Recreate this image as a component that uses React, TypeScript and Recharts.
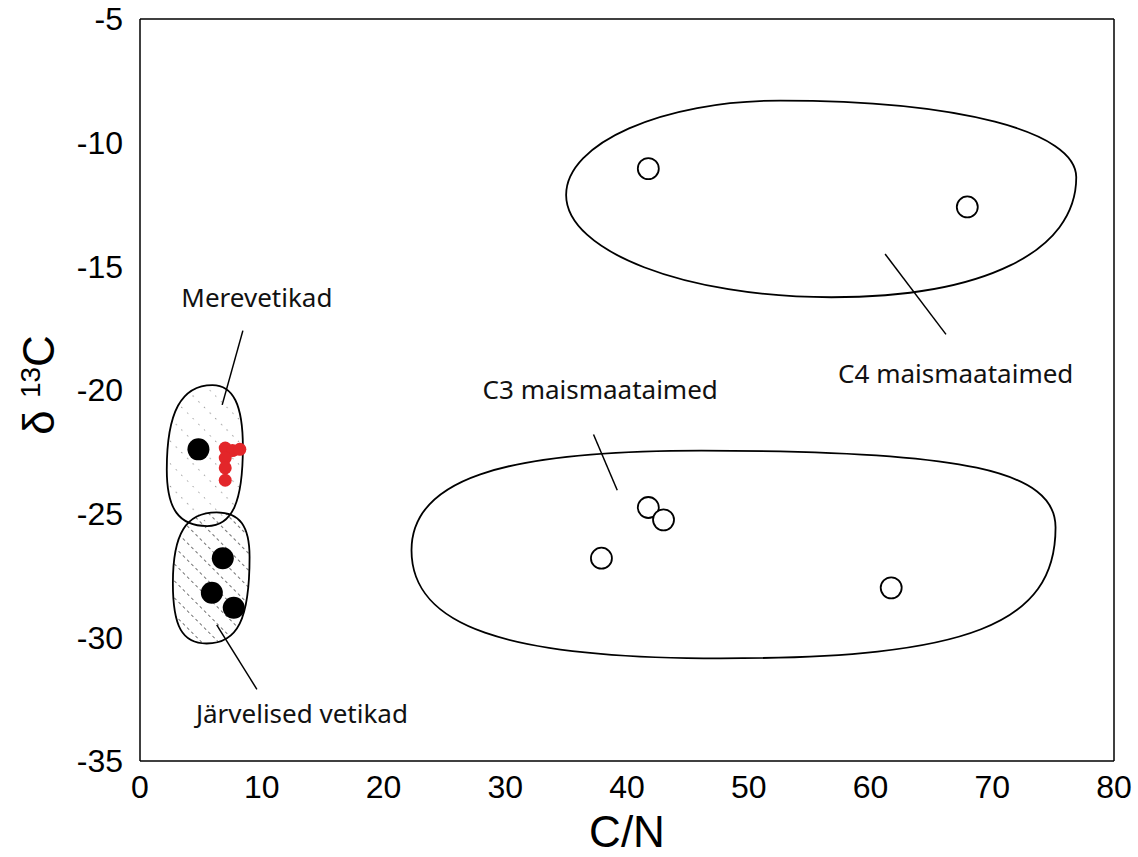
import React from "react";
import {
  ReferenceArea,
  ReferenceDot,
  ReferenceLine,
  Scatter,
  ScatterChart,
  XAxis,
  YAxis,
} from "recharts";

// axis ticks
const cnTicks = [0, 10, 20, 30, 40, 50, 60, 70, 80];
const d13cTicks = [-35, -30, -25, -20, -15, -10, -5];

// measured samples
const marineAlgae = [{ cn: 4.8, d13c: -22.4 }];
const lakeAlgae = [
  { cn: 6.8, d13c: -26.8 },
  { cn: 5.9, d13c: -28.2 },
  { cn: 7.7, d13c: -28.8 },
];
const ownSamples = [
  { cn: 7.0, d13c: -22.35 },
  { cn: 7.6, d13c: -22.45 },
  { cn: 8.2, d13c: -22.4 },
  { cn: 7.0, d13c: -22.75 },
  { cn: 7.0, d13c: -23.15 },
  { cn: 7.0, d13c: -23.65 },
];
const c3Plants = [
  { cn: 41.75, d13c: -24.75 },
  { cn: 43.0, d13c: -25.25 },
  { cn: 37.9, d13c: -26.8 },
  { cn: 61.7, d13c: -28.0 },
];
const c4Plants = [
  { cn: 41.75, d13c: -11.05 },
  { cn: 67.95, d13c: -12.6 },
];

// group outlines (bounding boxes in data units)
const groupAreas = [
  { id: "c4", x1: 35.0, x2: 76.9, y1: -8.3, y2: -16.25 },
  { id: "c3", x1: 22.3, x2: 75.2, y1: -22.45, y2: -30.85 },
  { id: "marine", x1: 2.2, x2: 8.45, y1: -19.8, y2: -25.5 },
  { id: "lake", x1: 2.7, x2: 9.0, y1: -24.95, y2: -30.25 },
];

const leaders = [
  { from: { x: 8.45, y: -17.6 }, to: { x: 6.75, y: -20.6 } },
  { from: { x: 6.3, y: -29.5 }, to: { x: 9.6, y: -32.1 } },
  { from: { x: 37.25, y: -21.8 }, to: { x: 39.2, y: -24.05 } },
  { from: { x: 61.2, y: -14.5 }, to: { x: 66.2, y: -17.75 } },
];

const groupLabels = [
  { text: "Merevetikad", x: 9.6, y: -16.65 },
  { text: "Järvelised vetikad", x: 13.3, y: -33.45 },
  { text: "C3 maismaataimed", x: 37.8, y: -20.35 },
  { text: "C4 maismaataimed", x: 67.0, y: -19.7 },
];

const blobStyle: Record<string, any> = {
  c4: { tx: 0.42, ry: 0.39, bx: 0.52, ly: 0.48, k: [0.6, 0.62, 0.55, 0.55], fill: "none" },
  c3: { tx: 0.45, ry: 0.37, bx: 0.48, ly: 0.48, k: [0.74, 0.74, 0.7, 0.7], fill: "none" },
  marine: { tx: 0.6, ry: 0.44, bx: 0.53, ly: 0.6, k: [0.68, 0.7, 0.7, 0.68], fill: "url(#dots)" },
  lake: { tx: 0.57, ry: 0.34, bx: 0.44, ly: 0.54, k: [0.7, 0.72, 0.72, 0.7], fill: "url(#hatch)" },
};

function blobPath(x: number, y: number, w: number, h: number, s: any) {
  const T = [x + s.tx * w, y];
  const R = [x + w, y + s.ry * h];
  const B = [x + s.bx * w, y + h];
  const L = [x, y + s.ly * h];
  const [k1, k2, k3, k4] = s.k;
  return [
    `M${T[0]},${T[1]}`,
    `C${T[0] + k1 * (R[0] - T[0])},${T[1]} ${R[0]},${R[1] - k1 * (R[1] - T[1])} ${R[0]},${R[1]}`,
    `C${R[0]},${R[1] + k2 * (B[1] - R[1])} ${B[0] + k2 * (R[0] - B[0])},${B[1]} ${B[0]},${B[1]}`,
    `C${B[0] - k3 * (B[0] - L[0])},${B[1]} ${L[0]},${L[1] + k3 * (B[1] - L[1])} ${L[0]},${L[1]}`,
    `C${L[0]},${L[1] - k4 * (L[1] - T[1])} ${T[0] - k4 * (T[0] - L[0])},${T[1]} ${T[0]},${T[1]}`,
    "Z",
  ].join(" ");
}

const tickFont = { fontFamily: "'Liberation Sans', Arial, sans-serif", fontSize: 32, fill: "#000" };
const noteFont = "'Noto Sans', 'Open Sans', sans-serif";

const dot = (r: number, fill: string, stroke = "none") => (p: any) => (
  <circle cx={p.cx} cy={p.cy} r={r} fill={fill} stroke={stroke} strokeWidth={1.8} />
);

export default function App() {
  return (
    <div style={{ position: "absolute", left: 0, top: 0, background: "#fff" }}>
      <ScatterChart width={1138} height={857} margin={{ top: 19, right: 24, bottom: 0, left: 40 }}>
        <defs>
          <pattern id="hatch" width="12" height="12" patternUnits="userSpaceOnUse" patternTransform="rotate(-45)">
            <line x1="0" y1="0" x2="0" y2="12" stroke="#222" strokeWidth={1.3} strokeDasharray="3 3" />
          </pattern>
          <pattern id="dots" width="16" height="16" patternUnits="userSpaceOnUse" patternTransform="rotate(-45)">
            <line x1="0" y1="0" x2="0" y2="16" stroke="#444" strokeWidth={1.2} strokeDasharray="1.2 7" />
          </pattern>
        </defs>
        <XAxis
          type="number"
          dataKey="cn"
          domain={[0, 80]}
          ticks={cnTicks}
          height={96}
          tickSize={0}
          tickMargin={14}
          tick={tickFont}
          axisLine={{ stroke: "#000", strokeWidth: 1.5 }}
          label={(props: any) => {
            const vb = props.viewBox;
            return (
              <text x={vb.x + vb.width / 2} y={vb.y + 86} textAnchor="middle" fontFamily="'Liberation Sans', Arial, sans-serif" fontSize={44} fill="#000">
                C/N
              </text>
            );
          }}
        />
        <YAxis
          type="number"
          dataKey="d13c"
          domain={[-35, -5]}
          ticks={d13cTicks}
          width={100}
          tickSize={0}
          tickMargin={17}
          tick={tickFont}
          axisLine={{ stroke: "#000", strokeWidth: 1.5 }}
          label={(props: any) => {
            const vb = props.viewBox;
            return (
              <text
                transform={`translate(${vb.x + 14},${vb.y + vb.height / 2 - 5}) rotate(-90)`}
                textAnchor="middle"
                fontFamily="'Liberation Sans', Arial, sans-serif"
                fontSize={44}
                fill="#000"
              >
                δ <tspan fontSize={28} dy={-14}>13</tspan>
                <tspan dy={14}>C</tspan>
              </text>
            );
          }}
        />
        <ReferenceLine y={-5} stroke="#000" strokeWidth={1.5} />
        <ReferenceLine x={80} stroke="#000" strokeWidth={1.5} />
        {groupAreas.map((a) => (
          <ReferenceArea
            key={a.id}
            x1={a.x1}
            x2={a.x2}
            y1={a.y1}
            y2={a.y2}
            shape={(p: any) => (
              <path
                d={blobPath(p.x, p.y, p.width, p.height, blobStyle[a.id])}
                fill={blobStyle[a.id].fill}
                stroke="#000"
                strokeWidth={1.8}
              />
            )}
          />
        ))}
        {leaders.map((l, i) => (
          <ReferenceLine key={i} segment={[l.from, l.to]} stroke="#000" strokeWidth={1.5} />
        ))}
        {groupLabels.map((g) => (
          <ReferenceDot
            key={g.text}
            x={g.x}
            y={g.y}
            shape={(p: any) => (
              <text x={p.cx} y={p.cy} textAnchor="middle" fontFamily={noteFont} fontSize={26} fill="#111">
                {g.text}
              </text>
            )}
          />
        ))}
        <Scatter data={c3Plants} isAnimationActive={false} shape={dot(10.5, "#fff", "#000")} />
        <Scatter data={c4Plants} isAnimationActive={false} shape={dot(10.5, "#fff", "#000")} />
        <Scatter data={marineAlgae} isAnimationActive={false} shape={dot(11, "#000")} />
        <Scatter data={lakeAlgae} isAnimationActive={false} shape={dot(11, "#000")} />
        <Scatter data={ownSamples} isAnimationActive={false} shape={dot(6.5, "#e3262a")} />
      </ScatterChart>
    </div>
  );
}
